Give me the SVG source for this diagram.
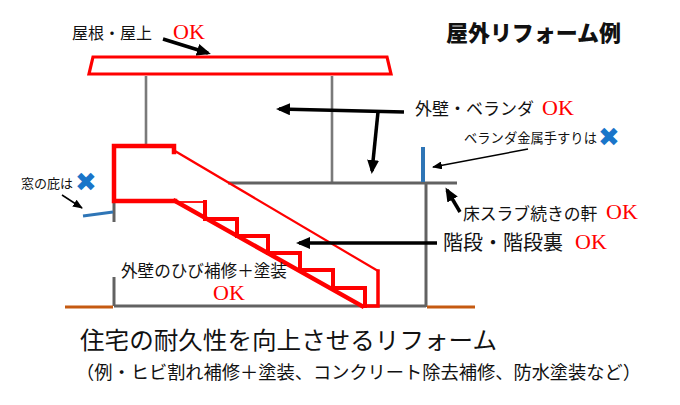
<svg xmlns="http://www.w3.org/2000/svg" width="680" height="405" viewBox="0 0 680 405">
<style>
.jp{font-family:"Noto Sans CJK JP","Noto Sans",sans-serif;fill:#111}
.ok{font-family:"Liberation Serif","Times New Roman",serif;fill:#ff0000;font-size:22px}
.x{font-family:"DejaVu Sans",sans-serif;fill:#1a75c9;font-size:26px}
.red{fill:none;stroke:#ff0000;stroke-linejoin:miter;stroke-linecap:square}
.gray{stroke:#7a7a7a;stroke-width:2.6;fill:none}
.dark{stroke:#626262;stroke-width:3;fill:none}
.org{stroke:#c55a11;stroke-width:3}
.blue{stroke:#2e75b6;fill:none}
.thick{stroke:#000;stroke-width:3.5;fill:none;marker-end:url(#ah)}
.thin{stroke:#000;stroke-width:1.5;fill:none;marker-end:url(#ahs)}
</style>
<defs>
<marker id="ah" markerUnits="userSpaceOnUse" markerWidth="14" markerHeight="12" refX="11" refY="6" orient="auto">
<path d="M0,0 L14,6 L0,12 z" fill="#000"/>
</marker>
<marker id="ahs" markerUnits="userSpaceOnUse" markerWidth="10" markerHeight="8" refX="9" refY="4" orient="auto">
<path d="M0,0 L10,4 L0,8 z" fill="#000"/>
</marker>
</defs>
<rect width="680" height="405" fill="#fff"/>

<g id="structure">
<line class="gray" x1="146" y1="76" x2="146" y2="146"/>
<line class="gray" x1="332" y1="76" x2="332" y2="183"/>
<line class="dark" x1="228" y1="183" x2="457" y2="183"/>
<line class="dark" x1="426" y1="183" x2="426" y2="307"/>
<line class="dark" x1="114" y1="306" x2="426" y2="306"/>
<line class="dark" x1="114" y1="277" x2="114" y2="306"/>
<line class="dark" x1="114" y1="201" x2="114" y2="222"/>
<line class="org" x1="65" y1="307" x2="113" y2="307"/>
<line class="org" x1="427" y1="307" x2="475" y2="307"/>
<line class="blue" stroke-width="3" x1="83" y1="216" x2="113" y2="212"/>
<line class="blue" stroke-width="4" x1="423" y1="147" x2="423" y2="182"/>
</g>

<g id="roof">
<polygon class="red" stroke-width="3.2" points="93,57 387,57 391,74 89,74"/>
</g>

<g id="stairs">
<line class="red" stroke-width="2.2" x1="175" y1="151" x2="378" y2="271"/>
<polyline class="red" stroke-width="4.5" points="174,152 174,146 114,146 114,201 175,201"/>
<line class="red" stroke-width="4.5" x1="175" y1="201" x2="362" y2="306"/>
<line class="red" stroke-width="1.8" x1="177" y1="202" x2="204" y2="202"/>
<polyline class="red" stroke-width="4" points="205,202 205,219 237,219 237,236 268,236 268,253 300,253 300,270 333,270 333,288 365,288 365,306"/>
<polyline class="red" stroke-width="3.5" points="378,271 378,306 363,306"/>
</g>

<g id="connectors">
<line class="thick" x1="163" y1="39" x2="208" y2="53"/>
<line class="thick" x1="404" y1="112" x2="279" y2="109"/>
<line class="thick" x1="378" y1="112" x2="372" y2="171"/>
<line class="thin" x1="528" y1="149" x2="433" y2="167"/>
<line class="thick" x1="460" y1="212" x2="447" y2="190"/>
<line class="thick" x1="437" y1="243" x2="299" y2="243"/>
<line class="thin" x1="62" y1="195" x2="82" y2="208"/>
</g>

<g id="title">
<text class="jp" x="446" y="41" font-size="21.5" font-weight="900" textLength="175" lengthAdjust="spacingAndGlyphs">屋外リフォーム例</text>
</g>

<g id="label-roof">
<text class="jp" x="72" y="39" font-size="16">屋根・屋上</text>
<text class="ok" x="173" y="39">OK</text>
</g>

<g id="label-wall">
<text class="jp" x="415" y="115" font-size="17">外壁・ベランダ</text>
<text class="ok" x="542" y="115">OK</text>
</g>

<g id="label-rail">
<text class="jp" x="464" y="143" font-size="13.3">ベランダ金属手すりは</text>
<text class="x" x="598" y="146">✖</text>
</g>

<g id="label-window">
<text class="jp" x="21" y="188" font-size="13">窓の庇は</text>
<text class="x" x="75" y="191">✖</text>
</g>

<g id="label-eave">
<text class="jp" x="463" y="220" font-size="16.8">床スラブ続きの軒</text>
<text class="ok" x="606" y="219">OK</text>
</g>

<g id="label-stairs">
<text class="jp" x="443" y="250" font-size="20">階段・階段裏</text>
<text class="ok" x="575" y="249">OK</text>
</g>

<g id="label-crack">
<text class="jp" x="121" y="277" font-size="16.6">外壁のひび補修＋塗装</text>
<text class="ok" x="213" y="300" font-size="21">OK</text>
</g>

<g id="caption">
<text class="jp" x="80" y="349" font-size="24" textLength="417" lengthAdjust="spacingAndGlyphs">住宅の耐久性を向上させるリフォーム</text>
<text class="jp" x="76" y="379" font-size="18" textLength="565" lengthAdjust="spacingAndGlyphs">（例・ヒビ割れ補修＋塗装、コンクリート除去補修、防水塗装など）</text>
</g>
</svg>
